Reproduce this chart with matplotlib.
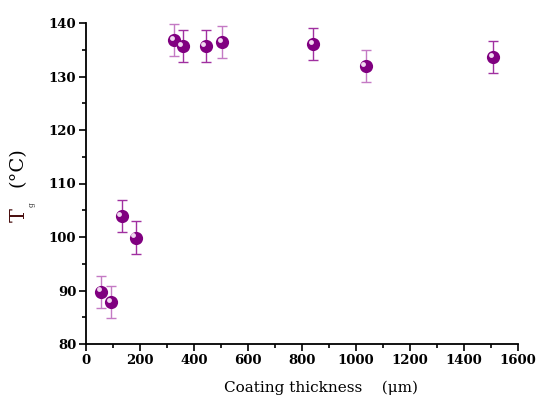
import matplotlib
matplotlib.use("Agg")
import matplotlib.pyplot as plt
from matplotlib.ticker import MultipleLocator
import matplotlib.transforms as mtransforms

thickness = [56, 93, 133, 184, 326, 358, 444, 504, 842, 1036, 1508]
tg = [89.8, 87.9, 103.9, 99.9, 136.8, 135.7, 135.7, 136.4, 136.0, 132.0, 133.7]
err = [3, 3, 3, 3, 3, 3, 3, 3, 3, 3, 3]

plt.rcParams['font.family'] = ['DejaVu Serif']
W, H = 536, 401
fig = plt.figure(figsize=(W / 100, H / 100), dpi=100)
ax = fig.add_axes([86 / W, 1 - 344 / H, (518 - 86) / W, (344 - 23) / H])

bar_colors = ['#c47ac4', '#c47ac4', '#a030a0', '#a030a0', '#c47ac4', '#a030a0',
              '#a030a0', '#c47ac4', '#a030a0', '#c47ac4', '#a030a0']
for x, y, e, c in zip(thickness, tg, err, bar_colors):
    ax.errorbar([x], [y], yerr=[e], fmt='none', ecolor=c, elinewidth=1.0,
                capsize=3.5, capthick=1.0, zorder=2)
ax.plot(thickness, tg, 'o', color='#800080', markersize=9.5, zorder=3, markeredgewidth=0)
off = mtransforms.offset_copy(ax.transData, fig=fig, x=-1.8, y=1.5, units='points')
ax.plot(thickness, tg, 'o', color='#f0d8f0', markersize=3.5, zorder=4,
        markeredgewidth=0, transform=off)

ax.set_xlim(0, 1600)
ax.set_ylim(80, 140)
ax.xaxis.set_major_locator(MultipleLocator(200))
ax.xaxis.set_minor_locator(MultipleLocator(100))
ax.yaxis.set_major_locator(MultipleLocator(10))
ax.yaxis.set_minor_locator(MultipleLocator(5))
ax.spines['top'].set_visible(False)
ax.spines['right'].set_visible(False)
for s in ('left', 'bottom'):
    ax.spines[s].set_linewidth(1.3)
ax.tick_params(which='major', direction='out', length=5, width=1.2, labelsize=9.5, pad=2)
ax.tick_params(which='minor', direction='out', length=3, width=1.2)
for lbl in ax.get_xticklabels() + ax.get_yticklabels():
    lbl.set_fontweight('bold')

fig.text(321 / W, 1 - 388 / H, 'Coating thickness    (\u03bcm)', ha='center', va='center', fontsize=11)
fig.text(19 / W, 1 - 215 / H, 'T', ha='center', va='center', rotation=90,
         fontsize=15, color='#4a1010')
fig.text(32 / W, 1 - 205 / H, 'g', ha='center', va='center', rotation=90,
         fontsize=5.5, color='#333333')
fig.text(18 / W, 1 - 167 / H, '(°C)', ha='center', va='center', rotation=90, fontsize=14)

fig.savefig('out.png', dpi=100)
